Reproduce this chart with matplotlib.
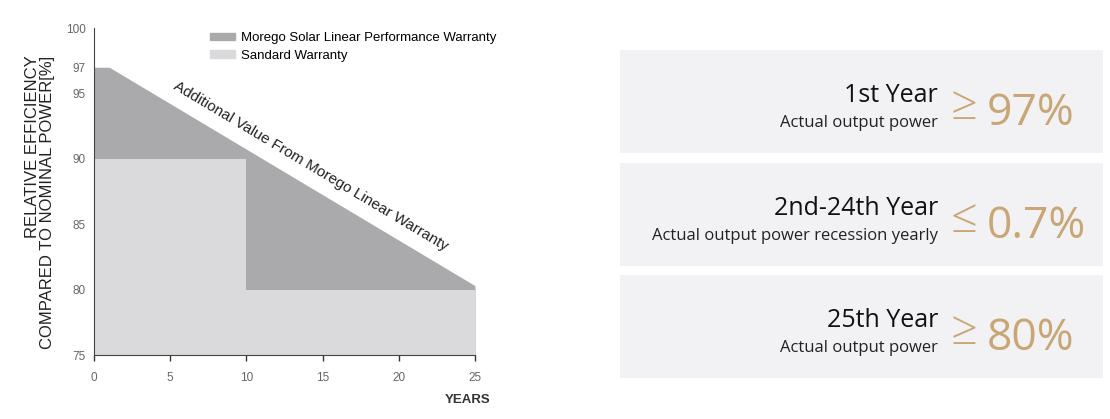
import numpy as np
import matplotlib
matplotlib.use("Agg")
import matplotlib.pyplot as plt
from matplotlib.patches import Rectangle, Patch

# Data
morego_years = [0, 1, 25]
morego_eff = [97, 97, 80.3]
standard_years = [0, 10, 10, 25]
standard_eff = [90, 90, 80, 80]
y_ticks = [75, 80, 85, 90, 95, 97, 100]
x_ticks = [0, 5, 10, 15, 20, 25]

panel_titles = ["1st Year", "2nd-24th Year", "25th Year"]
panel_subs = ["Actual output power", "Actual output power recession yearly", "Actual output power"]
panel_signs = ["\u2265", "\u2264", "\u2265"]
panel_values = ["97%", "0.7%", "80%"]

dark_gray = "#aaaaac"
light_gray = "#dadadc"
gold = "#c9a676"
chart_font = ["Liberation Sans Narrow", "Liberation Sans", "DejaVu Sans"]
panel_font = ["Open Sans", "DejaVu Sans"]

fig = plt.figure(figsize=(11.1, 4.19), dpi=100)
W, H = 1110, 419

ax = fig.add_axes([94 / W, 1 - 355 / H, (475 - 94) / W, (355 - 28) / H])
ax.fill_between(morego_years, 75, morego_eff, color=dark_gray, lw=0)
ax.fill_between(standard_years, 75, standard_eff, color=light_gray, lw=0)
ax.set_xlim(0, 25)
ax.set_ylim(75, 100)
ax.set_xticks(x_ticks)
ax.set_yticks(y_ticks)
ax.tick_params(axis="x", length=4, width=1, color="#333333", labelsize=8.5, labelcolor="#666666", pad=8)
ax.tick_params(axis="y", length=0, labelsize=8.5, labelcolor="#666666", pad=6)
for lbl in ax.get_xticklabels() + ax.get_yticklabels():
    lbl.set_family(chart_font)
for s in ["top", "right"]:
    ax.spines[s].set_visible(False)
ax.spines["left"].set_color("#444444")
ax.spines["bottom"].set_color("#444444")

# y label: two lines, aligned at the top
fig.text(40 / W, 1 - 202 / H, "RELATIVE EFFICIENCY\nCOMPARED TO NOMINAL POWER[%]", family=chart_font,
         fontsize=12, linespacing=0.95, rotation=90, ha="center", va="center",
         multialignment="right", color="#222222")
fig.text(468 / W, 1 - 400 / H, "YEARS", family=chart_font, fontsize=9.5, fontweight="bold",
         ha="center", va="center", color="#333333")

handles = [Patch(color=dark_gray, label="Morego Solar Linear Performance Warranty"),
           Patch(color=light_gray, label="Sandard Warranty")]
ax.legend(handles=handles, loc="upper left", bbox_to_anchor=(0.29, 1.003), frameon=False,
          prop={"family": chart_font, "size": 9.5}, handlelength=1.9, handleheight=0.5,
          handletextpad=0.5, labelspacing=0.4, borderaxespad=0)

# rotated annotation following the slope
fig.canvas.draw()
p0 = ax.transData.transform((1, 97))
p1 = ax.transData.transform((25, 80.3))
angle = np.degrees(np.arctan2(p1[1] - p0[1], p1[0] - p0[0]))
ax.text(14.0, 89.0, "Additional Value From Morego Linear Warranty", family=chart_font,
        fontsize=11, rotation=angle, rotation_mode="anchor", ha="center", va="bottom",
        color="#222222")

# right-hand panels
box_tops = [50, 163, 275]
box_h = 103
for i, top in enumerate(box_tops):
    fig.patches.append(Rectangle((620 / W, 1 - (top + box_h) / H), (1103 - 620) / W, box_h / H,
                                 transform=fig.transFigure, facecolor="#f2f2f4", edgecolor="none"))
    fig.text(938 / W, 1 - (top + 52) / H, panel_titles[i], family=panel_font, fontsize=18,
             ha="right", va="baseline", color="#111111")
    fig.text(938 / W, 1 - (top + 77) / H, panel_subs[i], family=panel_font, fontsize=12,
             ha="right", va="baseline", color="#222222")
    fig.text(964 / W, 1 - (top + 57) / H, panel_signs[i], family=panel_font, fontsize=34,
             ha="center", va="center", color=gold, fontweight="light")
    fig.text(987 / W, 1 - (top + 75) / H, panel_values[i], family=panel_font, fontsize=32,
             ha="left", va="baseline", color=gold)

fig.savefig("out.png", dpi=100, facecolor="white")
